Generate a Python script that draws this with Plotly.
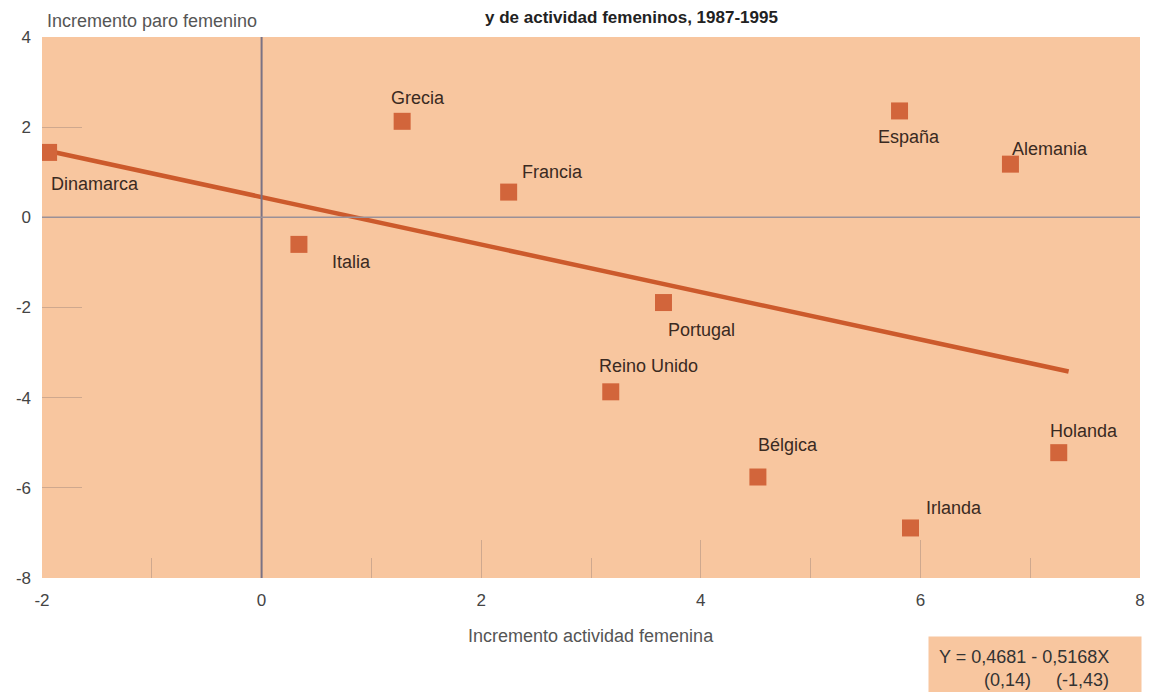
import plotly.graph_objects as go

# Incremento actividad femenina (x) e incremento paro femenino (y), 1987-1995
paises = ["Dinamarca", "Grecia", "Francia", "Italia", "Portugal", "Reino Unido",
          "Bélgica", "Irlanda", "Holanda", "España", "Alemania"]
actividad = [-1.94, 1.28, 2.25, 0.34, 3.66, 3.18, 4.52, 5.91, 7.26, 5.81, 6.82]
paro = [1.44, 2.13, 0.56, -0.60, -1.89, -3.87, -5.76, -6.89, -5.22, 2.36, 1.18]

# recta de regresión
recta_x = [-1.94, 7.35]
recta_y = [1.47, -3.42]

x_ticks = [-2, 0, 2, 4, 6, 8]
x_ticktext = ["-2", "0", "2", "4", "6", "8"]
y_ticks = [-8, -6, -4, -2, 0, 2, 4]
y_ticktext = ["-8", "-6", "-4", "-2", "0", "2", "4"]

# desplazamiento (px) de cada etiqueta respecto a su punto
desplaz = {
    "Dinamarca": (46, -32), "Grecia": (16, 23), "Francia": (44, 20),
    "Italia": (53, -18), "Portugal": (38, -27), "Reino Unido": (38, 26),
    "Bélgica": (30, 32), "Irlanda": (43, 20), "Holanda": (25, 22),
    "España": (9, -26), "Alemania": (40, 15),
}

naranja = "#d2653b"
linea = "#cc5a2c"
fondo = "#f8c69f"
marca = "#cfa88e"
font = "Liberation Sans, Arial, sans-serif"

fig = go.Figure()

# ejes de referencia en x=0 e y=0, por encima de las marcas de graduación
fig.add_vline(x=0, line=dict(color="#7b7284", width=2), layer="above")
fig.add_hline(y=0, line=dict(color="#9a9098", width=1.5), layer="above")

fig.add_trace(go.Scatter(x=recta_x, y=recta_y, mode="lines",
                         line=dict(color=linea, width=4.5), hoverinfo="skip"))

fig.add_trace(go.Scatter(
    x=actividad, y=paro, mode="markers",
    marker=dict(symbol="square", size=17, color=naranja),
))

for p, xv, yv in zip(paises, actividad, paro):
    dx, dy = desplaz[p]
    fig.add_annotation(x=xv, y=yv, text=p, showarrow=False, xshift=dx, yshift=dy,
                       font=dict(size=18, color="#3a2a22"))

# la página tiene 8 px de margen, de ahí los márgenes
fig.update_layout(
    width=1160, height=692,
    paper_bgcolor="white", plot_bgcolor=fondo,
    showlegend=False,
    margin=dict(l=34, r=28, t=29, b=122),
    font=dict(family=font, size=17, color="#444"),
)

fig.update_xaxes(range=[-2, 8], tickvals=x_ticks, ticktext=x_ticktext, showgrid=False,
                 zeroline=False,
                 ticks="inside", ticklen=38, tickcolor=marca, ticklabelstandoff=10,
                 minor=dict(dtick=1, ticks="inside", ticklen=20, tickcolor=marca),
                 showline=False, automargin=False)
fig.update_yaxes(range=[-8, 4], tickvals=y_ticks, ticktext=y_ticktext, showgrid=False,
                 zeroline=False,
                 ticks="inside", ticklen=40, tickcolor=marca, ticklabelstandoff=10,
                 showline=False, automargin=False)

fig.add_annotation(text="<b>y de actividad femeninos, 1987-1995</b>", xref="paper",
                   yref="paper", x=0.537, y=1.0, yshift=20, xanchor="center",
                   yanchor="middle", showarrow=False, font=dict(size=17, color="#222"))
fig.add_annotation(text="Incremento paro femenino", xref="paper", yref="paper",
                   x=0.003, y=1.0, yshift=16, xanchor="left", yanchor="middle",
                   showarrow=False, font=dict(size=18, color="#555"))
fig.add_annotation(text="Incremento actividad femenina", xref="paper", yref="paper",
                   x=0.5, y=0, yshift=-58, xanchor="center", yanchor="middle",
                   showarrow=False, font=dict(size=18, color="#555"))
fig.add_annotation(text="Y = 0,4681 - 0,5168X<br>         (0,14)     (-1,43)",
                   xref="paper", yref="paper", x=1.0, y=0, yshift=-58, xshift=2,
                   xanchor="right", yanchor="top", align="left", showarrow=False,
                   bgcolor=fondo, borderpad=10, width=192,
                   font=dict(size=18, color="#333"))

fig.write_html("out.html")
